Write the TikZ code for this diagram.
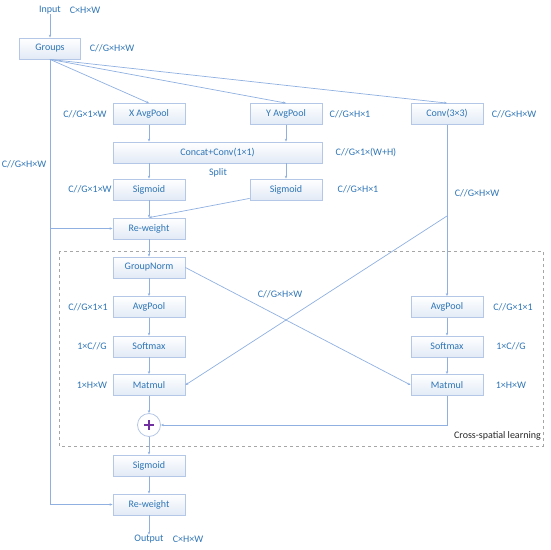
\documentclass[tikz,border=0pt]{standalone}
\usepackage{fontspec}
\setmainfont{Carlito}
\usetikzlibrary{arrows.meta,calc}
\definecolor{txtb}{RGB}{46,117,182}
\definecolor{lineb}{RGB}{143,176,224}
\definecolor{boxb}{RGB}{180,199,231}
\definecolor{boxf}{RGB}{226,234,246}
\definecolor{plusc}{RGB}{112,48,160}
\tikzset{
  box/.style={draw=boxb, line width=0.8pt, top color=white, bottom color=boxf, minimum width=72pt, minimum height=21pt, inner sep=0pt, text=txtb, font=\fontsize{10}{12}\selectfont},
  lab/.style={text=txtb, font=\fontsize{10}{12}\selectfont, inner sep=0pt},
  conn/.style={draw=lineb, line width=0.7pt, -{Stealth[length=3pt,width=2.4pt]}},
  plain/.style={draw=lineb, line width=0.7pt},
}
\begin{document}
\begin{tikzpicture}[x=1pt,y=-1pt]
\useasboundingbox (0,0) rectangle (550,550);
% dashed region
\draw[gray!70, dashed, line width=0.6pt] (59,251) rectangle (543,446);
\node[anchor=east, font=\fontsize{10}{12}\selectfont, text=black!85, inner sep=0pt] (csl) at (541,436) {Cross-spatial learning};

% top
\node[lab] (in) at (50,10) {Input};
\node[lab] (inl) at (85,10) {C×H×W};
\node[box, minimum width=61pt] (groups) at (50,48.5) {Groups};
\node[lab] (gl) at (112,48.5) {C//G×H×W};

\node[box] (xap) at (149,114) {X AvgPool};
\node[lab] (xapl) at (85,114) {C//G×1×W};
\node[box] (yap) at (286,114) {Y AvgPool};
\node[lab] (yapl) at (350,114) {C//G×H×1};
\node[box] (conv) at (447,114) {Conv(3×3)};
\node[lab] (convl) at (514,114) {C//G×H×W};

\node[box, minimum width=209pt] (cat) at (217.5,152.5) {Concat+Conv(1×1)};
\node[lab] (catl) at (366,153) {C//G×1×(W+H)};
\node[lab] (split) at (218,173) {Split};

\node[box] (sigL) at (149,189.5) {Sigmoid};
\node[lab] (sigLl) at (90,189.5) {C//G×1×W};
\node[box] (sigR) at (286,189.5) {Sigmoid};
\node[lab] (sigRl) at (358,189.5) {C//G×H×1};

\node[box] (rw1) at (149,228.5) {Re-weight};
\node[lab] (leftl) at (24,164) {C//G×H×W};
\node[lab] (convdl) at (477,193) {C//G×H×W};

% cross-spatial
\node[box] (gn) at (149,267.5) {GroupNorm};
\node[box] (apL) at (149,307) {AvgPool};
\node[lab] (apLl) at (88,307) {C//G×1×1};
\node[box] (smL) at (149,346.5) {Softmax};
\node[lab] (smLl) at (92,346.5) {1×C//G};
\node[box] (mmL) at (149,385) {Matmul};
\node[lab] (mmLl) at (92,385) {1×H×W};

\node[box] (apR) at (447,307) {AvgPool};
\node[lab] (apRl) at (513,307) {C//G×1×1};
\node[box] (smR) at (447,346.5) {Softmax};
\node[lab] (smRl) at (511,346.5) {1×C//G};
\node[box] (mmR) at (447,385) {Matmul};
\node[lab] (mmRl) at (511,385) {1×H×W};
\node[lab] (midl) at (280,294) {C//G×H×W};

\node[circle, draw=boxb, line width=0.8pt, fill=white, minimum size=23pt, inner sep=0pt] (plus) at (149,425) {};
\draw[plusc, line width=1.6pt] ($(plus.center)+(-5,0)$) -- ($(plus.center)+(5,0)$) ($(plus.center)+(0,-5)$) -- ($(plus.center)+(0,5)$);

\node[box] (sig2) at (149,465.5) {Sigmoid};
\node[box] (rw2) at (149,504.5) {Re-weight};
\node[lab] (out) at (149,539) {Output};
\node[lab] (outl) at (188,539) {C×H×W};

% connectors
\draw[conn] (in) -- (groups);
\draw[conn] (groups.south) -- (xap.north);
\draw[conn] (groups.south) -- (yap.north);
\draw[conn] (groups.south) -- (conv.north);
\draw[conn] (xap) -- (cat.north -| xap);
\draw[conn] (yap) -- (cat.north -| yap);
\draw[conn] (cat.south -| sigL) -- (sigL);
\draw[conn] (cat.south -| sigR) -- (sigR);
\draw[conn] (sigL) -- (rw1);
\draw[conn] ($(sigR.south west)+(0,-2)$) -- (rw1.north);
\coordinate (lb) at (50,504.5);
\draw[plain] (groups.south) -- (lb);
\draw[conn] (groups.south |- rw1) -- (rw1.west);
\draw[conn] (lb) -- (rw2.west);
\draw[conn] (rw1) -- (gn);
\draw[conn] (gn) -- (apL);
\draw[conn] (apL) -- (smL);
\draw[conn] (smL) -- (mmL);
\draw[conn] (mmL) -- (plus);
\draw[conn] (conv) -- (apR);
\draw[conn] (apR) -- (smR);
\draw[conn] (smR) -- (mmR);
\coordinate (cb) at (447,216);
\draw[conn] (cb) -- (mmL.east);
\draw[conn] (gn.east) -- (mmR.west);
\draw[conn] (mmR.south) |- (plus.east);
\draw[conn] (plus) -- (sig2);
\draw[conn] (sig2) -- (rw2);
\draw[conn] (rw2) -- (out);
\end{tikzpicture}
\end{document}
